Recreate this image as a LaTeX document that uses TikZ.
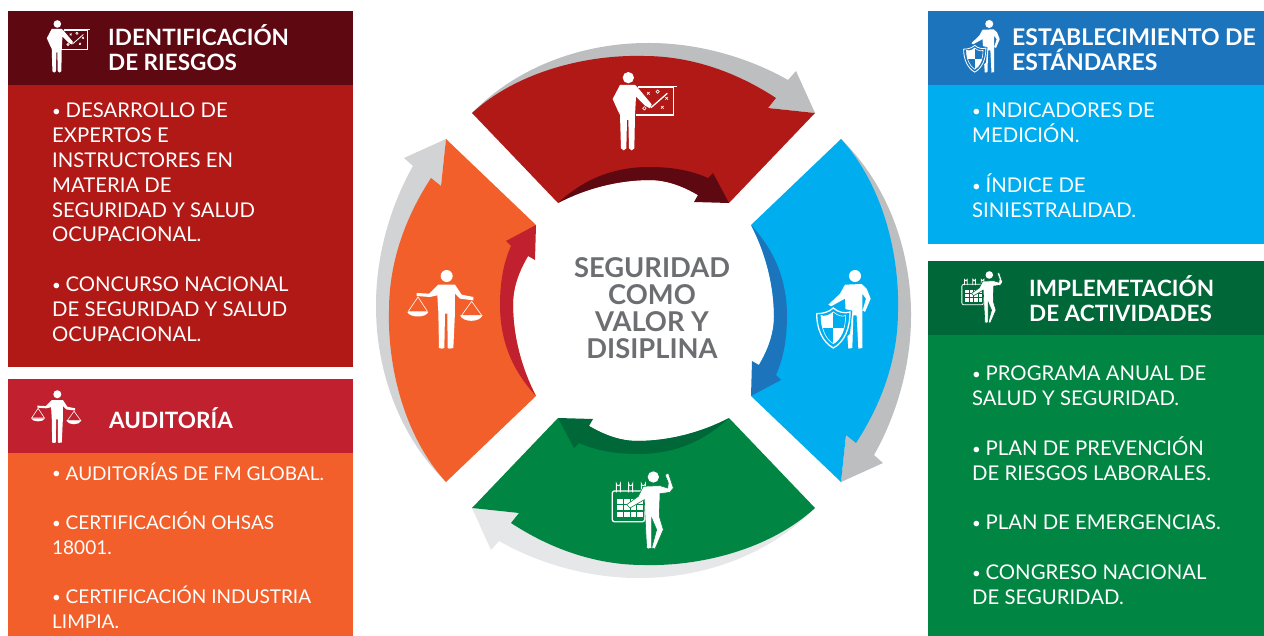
\documentclass[tikz,border=0pt]{standalone}
\usepackage{fontspec}
\setmainfont{Lato}
\newcommand{\bodyFont}[0]{\fontsize{20.3}{24.8}\selectfont}
\newcommand{\smallBodyFont}[0]{\fontsize{19}{24.7}\selectfont}
\newcommand{\titleFont}[0]{\fontsize{22.5}{25}\selectfont\bfseries}
\newcommand{\itemDot}[0]{\makebox[13.5pt][l]{\raisebox{1.3pt}{\fontsize{15}{15}\selectfont •}}}
\definecolor{riskMain}{HTML}{B11916}
\definecolor{riskDark}{HTML}{5E0812}
\definecolor{stdMain}{HTML}{00AEEF}
\definecolor{stdDark}{HTML}{1C75BC}
\definecolor{actMain}{HTML}{008542}
\definecolor{actDark}{HTML}{006838}
\definecolor{audMain}{HTML}{F25F2A}
\definecolor{audDark}{HTML}{C1202E}
\definecolor{arcOne}{HTML}{BCBEC0}
\definecolor{arcTwo}{HTML}{E6E7E8}
\definecolor{arcThree}{HTML}{D1D3D4}
\definecolor{centerText}{HTML}{6D6E71}

\begin{document}
\begin{tikzpicture}[x=1pt, y=-1pt]
  \tikzset{
    bigIcon/.style={scale=0.3333, iconLine/.style={line width=1.3pt}},
    smallIcon/.style={scale=0.223, iconLine/.style={line width=0.8pt}},
    title/.style={text=white, font=\titleFont, align=left, anchor=west, inner sep=0pt},
    body/.style={text=white, font=\bodyFont, align=left, anchor=north west, inner sep=0pt},
    pics/teacher/.style={code={
      \fill[white] (70,38) circle (17);
      \draw[white, iconLine] (100,66) -- (205,66) -- (205,150) -- (93,150);
      \draw[white, iconLine] (98,64) -- (215,64);
      \draw[white, iconLine] (138,128) -- (187,85);
      \foreach \xx/\yy in {130/85, 185/100, 172/127}
        \draw[white, line width=0.6pt] (\xx-4,\yy-4) -- (\xx+4,\yy+4) (\xx-4,\yy+4) -- (\xx+4,\yy-4);
      \draw[white, line width=0.6pt] (158,80) circle (5) (118,130) circle (5);
      \fill[white] (45,60) -- (90,60) -- (100,70) -- (140,118) -- (135,130) -- (120,122) -- (93,95)
        -- (90,150) -- (88,250) -- (80,256) -- (72,250) -- (70,165) -- (66,165) -- (64,250)
        -- (56,256) -- (48,250) -- (45,150) -- (40,140) -- (23,102) -- cycle;
    }},
    pics/shield/.style={code={
      \fill[white] (150,42) circle (18);
      \fill[white] (120,68) -- (170,66) -- (185,80) -- (197,110) -- (180,150) -- (173,145)
        -- (183,110) -- (172,95) -- (172,258) -- (160,260) -- (155,160) -- (145,160)
        -- (142,258) -- (130,260) -- (122,150) -- (120,110) -- (78,133) -- (70,128)
        -- (105,95) -- cycle;
      \fill[#1] (85,134) -- (142,146) -- (135,215) -- (85,265) -- (30,215) -- (28,150) -- cycle;
      \draw[white, iconLine] (85,138) .. controls (100,152) and (120,155) .. (135,150)
        .. controls (135,200) and (118,240) .. (85,258)
        .. controls (52,240) and (35,200) .. (35,155)
        .. controls (50,155) and (70,152) .. (85,138) -- cycle;
      \draw[white, line width=0.6pt] (85,150) .. controls (100,163) and (115,165) .. (122,160)
        .. controls (122,200) and (108,232) .. (85,245)
        .. controls (62,232) and (48,200) .. (48,160)
        .. controls (55,165) and (70,163) .. (85,150) -- cycle;
      \begin{scope}
        \clip (85,150) .. controls (100,163) and (115,165) .. (122,160)
          .. controls (122,200) and (108,232) .. (85,245)
          .. controls (62,232) and (48,200) .. (48,160)
          .. controls (55,165) and (70,163) .. (85,150) -- cycle;
        \fill[white] (40,140) rectangle (85,198);
        \fill[white] (85,198) rectangle (130,260);
      \end{scope}
    }},
    pics/calendar/.style={code={
      \draw[white, rounded corners=2pt, iconLine] (37,84) rectangle (134,176);
      \foreach \xx in {55,92,130}
        \draw[white, line width=0.9pt] (\xx-6,88) -- (\xx-6,62) arc (180:0:6) -- (\xx+6,88);
      \foreach \xx in {52,72,92,112}
        \foreach \yy in {108,127,146}
          \fill[white] (\xx,\yy) rectangle +(17,15);
      \fill[white] (160,42) circle (17);
      \fill[white, draw=#1, line width=0.6pt] (130,70) -- (180,68) -- (203,75) -- (205,60) -- (195,35)
        -- (205,30) -- (220,75) -- (210,88) -- (180,92) -- (178,160) -- (190,200)
        -- (165,258) -- (155,255) -- (170,200) -- (155,165) -- (155,255) -- (145,258)
        -- (140,255) -- (135,160) -- (133,110) -- (90,135) -- (80,125) -- (115,100) -- cycle;
    }},
    pics/scales/.style={code={
      \fill[white] (140,42) circle (18);
      \fill[white] (115,68) -- (165,68) -- (185,98) -- (220,105) -- (220,115) -- (180,110)
        -- (165,95) -- (165,150) -- (160,258) -- (148,260) -- (143,258) -- (142,155)
        -- (135,155) -- (133,258) -- (125,260) -- (117,258) -- (115,150) -- (112,100)
        -- (90,105) -- (50,102) -- (50,93) -- (88,95) -- cycle;
      \draw[white, line width=0.6pt] (25,148) -- (54,105) -- (82,148) -- cycle;
      \draw[white, line width=0.6pt] (185,160) -- (215,118) -- (245,160) -- cycle;
      \fill[white] (22,150) .. controls (30,168) and (77,168) .. (85,150) -- cycle;
      \fill[white] (180,160) .. controls (190,182) and (238,182) .. (248,160) -- cycle;
    }},
  }
  \useasboundingbox (0,0) rectangle (1264,636);

  \fill[riskDark] (8,11) rectangle (353,85);
  \fill[riskMain] (8,85) rectangle (353,367);
  \fill[audDark] (8,379) rectangle (353,453);
  \fill[audMain] (8,453) rectangle (353,636);
  \fill[stdDark] (928,11) rectangle (1264,85);
  \fill[stdMain] (928,85) rectangle (1264,244);
  \fill[actDark] (928,261) rectangle (1264,335);
  \fill[actMain] (928,335) rectangle (1264,636);

  \foreach \ang/\main/\dark/\back in {0/riskMain/riskDark/arcOne, -90/stdMain/stdDark/arcOne,
      -180/actMain/actDark/arcTwo, -270/audMain/audDark/arcThree} {
    \begin{scope}[shift={(643.5,310.5)}, rotate=\ang]
      \fill[\back] (-171.5,-197.5) .. controls (-120,-250) and (-50,-268) .. (6,-267.5)
        .. controls (55,-267.5) and (105,-253) .. (144.5,-230.5)
        -- (152.5,-239.5) -- (171.5,-197.5) -- (124.5,-202.5) -- (0,-240) -- cycle;
      \fill[\main] (-171.5,-197.5) .. controls (-125,-240) and (-55,-256) .. (0,-254.5)
        .. controls (50,-254.5) and (95,-237) .. (132.5,-212.5)
        -- (124.5,-202.5) -- (171.5,-197.5) -- (85.5,-107.5) -- (54.5,-115.5)
        .. controls (40,-124) and (24,-130.5) .. (6,-130.5)
        .. controls (-25,-130.5) and (-58,-122) .. (-85.5,-107.5) -- cycle;
      \fill[\dark] (-85.5,-107.5) .. controls (-58,-133) and (-28,-143.5) .. (6,-143.5)
        .. controls (28,-143.5) and (48,-140) .. (64.5,-132.5)
        -- (69.5,-137.5) -- (85.5,-107.5) -- (50.5,-108.5) -- (54.5,-115.5)
        .. controls (40,-124) and (24,-130.5) .. (6,-130.5)
        .. controls (-25,-130.5) and (-58,-122) .. (-85.5,-107.5) -- cycle;
    \end{scope}
  }

  \pic[bigIcon] at (605,65) {teacher};
  \pic[bigIcon] at (805,262) {shield=stdMain};
  \pic[bigIcon] at (600,463) {calendar=actMain};
  \pic[bigIcon] at (400,262) {scales};
  \pic[smallIcon] at (41.7,15.5) {teacher};
  \pic[smallIcon] at (955.8,14.6) {shield=stdDark};
  \pic[smallIcon] at (953.6,265.6) {calendar=actDark};
  \pic[smallIcon] at (26.1,384.9) {scales};

  \node[title] (title-1) at (108,48) {IDENTIFICACIÓN\\DE RIESGOS};
  \node[title, font=\fontsize{23}{25}\selectfont\bfseries] (title-2) at (1012,50) {ESTABLECIMIENTO DE\\ESTÁNDARES};
  \node[title] (title-3) at (1029,299) {IMPLEMETACIÓN\\DE ACTIVIDADES};
  \node[title] (title-4) at (109,418.5) {AUDITORÍA};

  \node[body] (body-1) at (52,103) {\itemDot DESARROLLO DE\\EXPERTOS E\\INSTRUCTORES EN\\MATERIA DE\\SEGURIDAD Y SALUD\\OCUPACIONAL.\\[24.8pt]\itemDot CONCURSO NACIONAL\\DE SEGURIDAD Y SALUD\\OCUPACIONAL.};
  \node[body] (body-2) at (972,103) {\itemDot INDICADORES DE\\MEDICIÓN.\\[24.8pt]\itemDot ÍNDICE DE\\SINIESTRALIDAD.};
  \node[body] (body-3) at (972,366) {\itemDot PROGRAMA ANUAL DE\\SALUD Y SEGURIDAD.\\[24.8pt]\itemDot PLAN DE PREVENCIÓN\\DE RIESGOS LABORALES.\\[24.8pt]\itemDot PLAN DE EMERGENCIAS.\\[24.8pt]\itemDot CONGRESO NACIONAL\\DE SEGURIDAD.};
  \node[body, font=\smallBodyFont] (body-4) at (52,462.5) {\itemDot AUDITORÍAS DE FM GLOBAL.\\[24.7pt]\itemDot CERTIFICACIÓN OHSAS\\18001.\\[24.7pt]\itemDot CERTIFICACIÓN INDUSTRIA\\LIMPIA.};

  \node[text=centerText, font=\fontsize{27.3}{27}\selectfont\bfseries, align=center, inner sep=0pt] (center) at (652,308.5)
    {SEGURIDAD\\COMO\\VALOR Y\\DISIPLINA};
\end{tikzpicture}
\end{document}
